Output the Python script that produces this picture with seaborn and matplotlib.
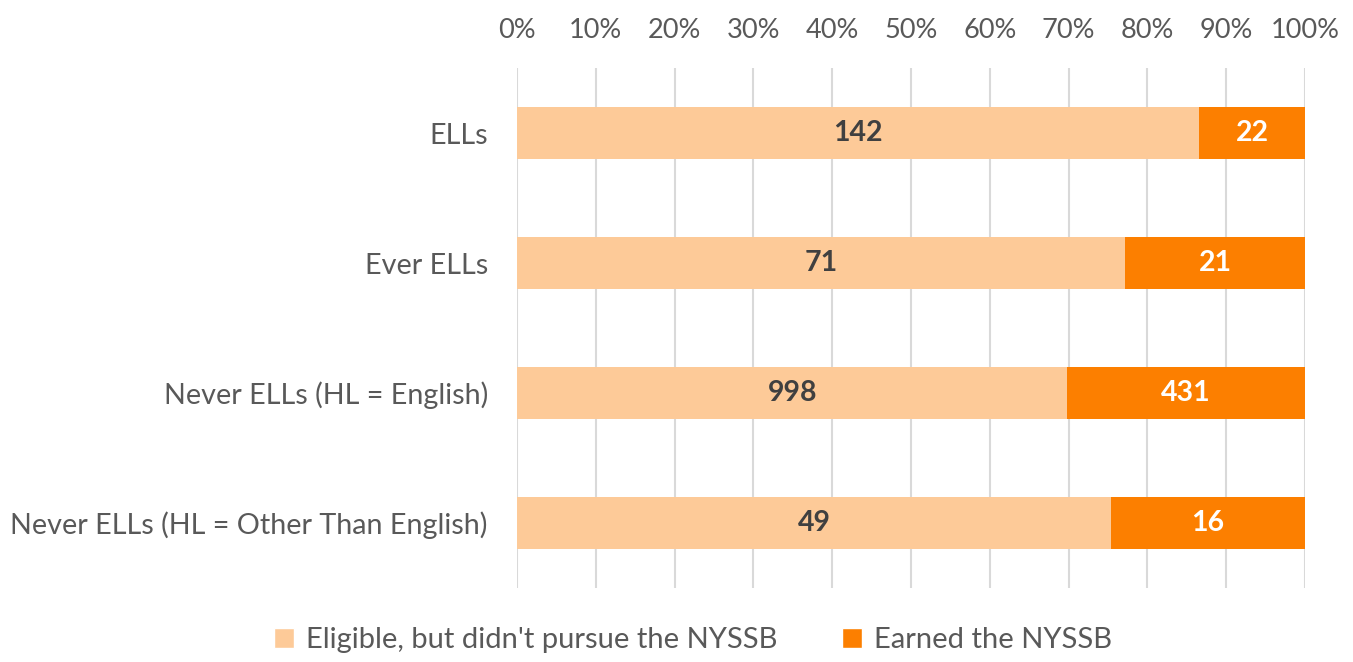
import numpy as np
import pandas as pd
import matplotlib
matplotlib.use("Agg")
import matplotlib.pyplot as plt
import seaborn as sns
from matplotlib.patches import Patch

groups = ["ELLs", "Ever ELLs", "Never ELLs (HL = English)", "Never ELLs (HL = Other Than English)"]
not_pursued = [142, 71, 998, 49]
earned = [22, 21, 431, 16]

light = "#FDCA98"
dark = "#FC7F00"
gray = "#595959"

df = pd.DataFrame({"group": groups, "not_pursued": not_pursued, "earned": earned})
df["total"] = df["not_pursued"] + df["earned"]
df["share_np"] = df["not_pursued"] / df["total"] * 100
df["share_all"] = 100.0

sns.set_style("white")
plt.rcParams["font.family"] = ["Lato", "DejaVu Sans"]

fig = plt.figure(figsize=(13.53, 6.62), dpi=100)
ax = fig.add_axes([517 / 1353, 1 - 588 / 662, 788 / 1353, 520 / 662])

sns.barplot(data=df, y="group", x="share_all", color=dark, orient="h",
            width=0.4, saturation=1, linewidth=0, ax=ax)
sns.barplot(data=df, y="group", x="share_np", color=light, orient="h",
            width=0.4, saturation=1, linewidth=0, ax=ax)

light_bars = ax.containers[1]
# labels for the light part
for bar, v in zip(light_bars, df["not_pursued"]):
    ax.text(bar.get_x() + bar.get_width() / 2, bar.get_y() + bar.get_height() / 2,
            str(v), ha="center", va="center", color="#404040",
            fontsize=20.5, fontweight="bold")
# labels for the dark part
for bar, s, v in zip(light_bars, df["share_np"], df["earned"]):
    ax.text((s + 100) / 2, bar.get_y() + bar.get_height() / 2,
            str(v), ha="center", va="center", color="white",
            fontsize=20.5, fontweight="bold")

ax.set_xlim(0, 100)
ax.set_ylim(3.5, -0.5)
ax.set_xticks(np.arange(0, 101, 10))
ax.set_xticklabels([f"{t}%" for t in range(0, 101, 10)])
ax.xaxis.tick_top()
ax.tick_params(axis="x", length=0, pad=18, labelsize=19.5, labelcolor=gray)
ax.tick_params(axis="y", length=0, pad=21, labelsize=20.7, labelcolor=gray)
ax.set_xlabel("")
ax.set_ylabel("")
ax.grid(axis="x", color="#D9D9D9", linewidth=1.5)
ax.set_axisbelow(True)
for sp in ax.spines.values():
    sp.set_visible(False)

handles = [Patch(facecolor=light, label="Eligible, but didn't pursue the NYSSB"),
           Patch(facecolor=dark, label="Earned the NYSSB")]
fig.legend(handles=handles, loc="center", bbox_to_anchor=(693 / 1353, 1 - 640 / 662),
           ncol=2, frameon=False, fontsize=21, labelcolor=gray,
           handlelength=0.7, handleheight=0.7, handletextpad=0.4, columnspacing=2.2)

fig.savefig("out.png", dpi=100)
